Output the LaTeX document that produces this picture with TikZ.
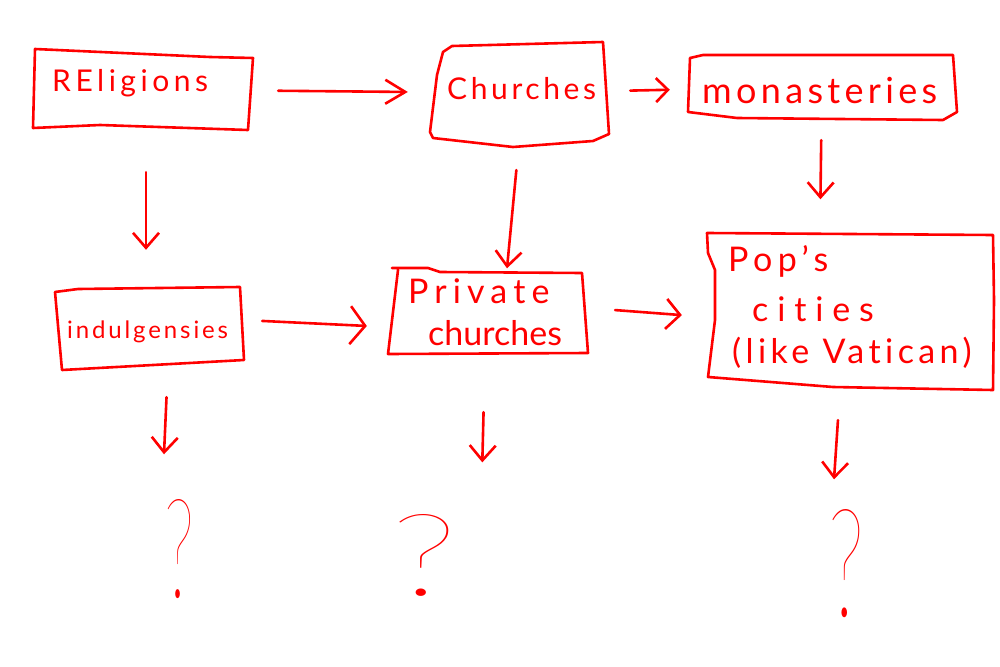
\documentclass[tikz,border=0pt]{standalone}
\usepackage{fontspec}
\usepackage{graphicx}
\setmainfont{Lato}[Ligatures={TeX,NoCommon}]
\newfontfamily\qfont{Lato Hairline}
\usetikzlibrary{arrows.meta}
\definecolor{ink}{RGB}{255,0,0}
\newcommand\lsp[2]{{\addfontfeature{LetterSpace=#1}#2}}
\tikzset{
  sk/.style={draw=ink, line width=2.6pt, line cap=round, line join=round},
  arr/.style={sk, -{Straight Barb[length=15pt,width=26pt]}},
  boxnode/.style={draw=none, inner sep=0pt, rectangle},
  lbl/.style={text=ink, inner sep=0pt, anchor=base west},
  mlbl/.style={text=ink, inner sep=0pt, anchor=north west, align=left},
  qmark/.style={text=ink, inner sep=0pt, font=\qfont\fontsize{100}{100}\selectfont},
}
\begin{document}
\begin{tikzpicture}[x=1pt,y=-1pt]
\useasboundingbox (0,0) rectangle (1000,666);
\fill[white] (0,0) rectangle (1000,666);

% invisible box nodes
\node[boxnode, minimum width=216pt, minimum height=79pt] (rel) at (142,89.5) {};
\node[boxnode, minimum width=176pt, minimum height=98pt] (chu) at (519,93) {};
\node[boxnode, minimum width=267pt, minimum height=61pt] (mon) at (821.5,86.5) {};
\node[boxnode, minimum width=185pt, minimum height=75pt] (ind) at (150,326) {};
\node[boxnode, minimum width=199pt, minimum height=85pt] (pri) at (488,311) {};
\node[boxnode, minimum width=288pt, minimum height=157pt] (pop) at (851,311) {};

% hand-drawn outlines
\draw[sk] (35,49) -- (210,57) -- (253,58) -- (248,130) -- (100,125) -- (33,128) -- cycle;
\draw[sk] (443,52) -- (452,46) -- (603,42) -- (609,134) -- (593,141) -- (513,147) -- (433,138) -- (430,132) -- (437,75) -- cycle;
\draw[sk] (690,58) -- (703,55) -- (953,55) -- (957,112) -- (943,120) -- (737,118) -- (688,112) -- cycle;
\draw[sk] (55,292) -- (78,289) -- (240,287) -- (244,360) -- (62,370) -- cycle;
\draw[sk] (392,268) -- (428,268) -- (440,272) -- (582,273) -- (588,353) -- (388,354) -- (398,270);
\draw[sk] (707,233) -- (993,235) -- (994,300) -- (993,390) -- (833,387) -- (708,377) -- (715,320) -- (715,270) -- (708,253) -- cycle;

% labels
\node[lbl, font=\fontsize{30}{36}\selectfont] (relt) at (52,92) {\lsp{15}{REligions}};
\node[lbl, font=\fontsize{30}{36}\selectfont] (chut) at (447,100) {\lsp{12}{Churches}};
\node[lbl, font=\fontsize{36}{42}\selectfont] (mont) at (702,103) {\lsp{12}{monasteries}};
\node[lbl, font=\fontsize{24}{30}\selectfont] (indt) at (67,338) {\lsp{12}{indulgensies}};
\node[mlbl, font=\fontsize{34}{42}\selectfont] (prit) at (408,278) {\lsp{18}{Private}\\\hspace*{20pt}\lsp{0}{churches}};
\node[mlbl, font=\fontsize{34}{46}\selectfont] (popt) at (728,245) {\lsp{16}{Pop's}\\[4pt]\hspace*{24pt}\lsp{26}{cities}\\[-4pt]\hspace*{4pt}\lsp{13}{(like Vatican)}};

% question marks
\node[qmark] (q1) at (179,549) {\resizebox{30pt}{98pt}{?}};
\node[qmark] (q2) at (424,555.5) {\resizebox{66pt}{81pt}{?}};
\node[qmark] (q3) at (846,563.5) {\resizebox{36pt}{107pt}{?}};

% connectors
\draw[arr, -{Straight Barb[length=20pt,width=24pt]}, shorten <=28pt, shorten >=23pt] (rel) -- (chu);
\draw[arr, -{Straight Barb[length=12pt,width=24pt]}, shorten <=23pt, shorten >=18pt] (chu) -- (mon);
\draw[arr, shorten <=23pt, shorten >=33pt] (mon.south) -- ([xshift=-31pt]pop.north);
\draw[arr, shorten <=43pt, shorten >=38.5pt] ([xshift=4pt]rel.south) -- ([xshift=-4pt]ind.north);
\draw[arr, shorten <=28pt] (chu.south) -- ([xshift=19pt]pri.north);
\draw[arr, -{Straight Barb[length=15pt,width=38pt]}, shorten <=19.5pt, shorten >=21.5pt] ([yshift=6pt]ind.east) -- ([yshift=-16pt]pri.west);
\draw[arr, -{Straight Barb[length=14pt,width=30pt]}, shorten <=27.5pt, shorten >=25pt] ([yshift=3pt]pri.east) -- ([yshift=-6pt]pop.west);
\draw[arr, shorten <=33.5pt, shorten >=45pt] ([xshift=18pt]ind.south) -- ([xshift=-17pt]q1.north);
\draw[arr, shorten <=58.5pt, shorten >=52pt] ([xshift=-3pt]pri.south) -- ([xshift=57pt]q2.north);
\draw[arr, shorten <=30.5pt, shorten >=30pt] ([xshift=-11pt]pop.south) -- ([xshift=-14pt]q3.north);
\end{tikzpicture}
\end{document}
